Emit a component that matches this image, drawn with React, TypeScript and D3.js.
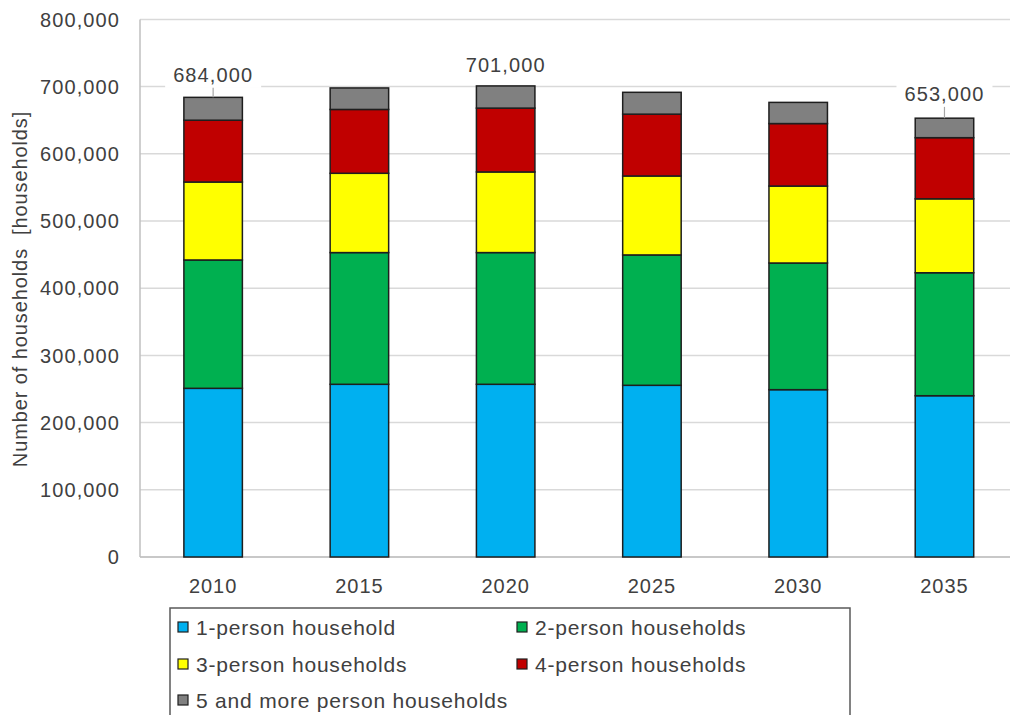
import React from "react";
import * as d3 from "d3";

const years = ["2010", "2015", "2020", "2025", "2030", "2035"];
const onePerson = [251000, 257000, 257000, 255500, 249000, 240000];
const twoPerson = [191000, 196000, 196000, 194000, 188500, 183000];
const threePerson = [116000, 118000, 120000, 117500, 114500, 110000];
const fourPerson = [92000, 95000, 95000, 92000, 93000, 91000];
const fivePlus = [34000, 32000, 33000, 32500, 31500, 29000];
const seriesNames = [
  "1-person household",
  "2-person households",
  "3-person households",
  "4-person households",
  "5 and more person households",
];
const seriesColors = ["#00b0f0", "#00b050", "#ffff00", "#c00000", "#808080"];
const yTicks = [0, 100000, 200000, 300000, 400000, 500000, 600000, 700000, 800000];
const labeledYears = ["2010", "2020", "2035"];
const yTitle = "Number of households  [households]";

// layout (not data)
const W = 1010;
const H = 715;
const X0 = 140;
const X1 = 1017.6;
const Y0 = 557;
const YTOP = 19.4;
const TXT = "#404040";
const FONT = "Arial, 'Liberation Sans', sans-serif";
const labelLayout: Record<string, { dy: number; leader: boolean }> = {
  "2010": { dy: 15.5, leader: true },
  "2020": { dy: 14, leader: false },
  "2035": { dy: 17.3, leader: true },
};

export default function App() {
  const series = [onePerson, twoPerson, threePerson, fourPerson, fivePlus];
  const rows = years.map((yr, i) => {
    const r: any = { year: yr };
    series.forEach((s, k) => (r["s" + k] = s[i]));
    return r;
  });
  const keys = series.map((_, k) => "s" + k);
  const stacked = d3.stack().keys(keys)(rows);

  const x = d3.scaleBand().domain(years).range([X0, X1]).paddingInner(0.6).paddingOuter(0.3);
  const y = d3.scaleLinear().domain([0, 800000]).range([Y0, YTOP]);
  const fmt = d3.format(",");

  const totals = years.map((_, i) => d3.sum(series, (s) => s[i]));

  const legendItems = [
    { k: 0, x: 178, y: 627 },
    { k: 1, x: 517, y: 627 },
    { k: 2, x: 178, y: 664 },
    { k: 3, x: 517, y: 664 },
    { k: 4, x: 178, y: 700 },
  ];

  return (
    <svg
      width={W}
      height={H}
      style={{ position: "absolute", left: 0, top: 0, background: "#fff" }}
      fontFamily={FONT}
    >
      <rect x={0} y={0} width={W} height={H} fill="#fff" />
      {/* gridlines */}
      {yTicks.map((t) => (
        <line key={t} x1={X0} x2={W} y1={y(t)} y2={y(t)} stroke="#d9d9d9" strokeWidth={1.5} />
      ))}
      {/* axes */}
      <line x1={X0} x2={X0} y1={YTOP} y2={Y0} stroke="#bfbfbf" strokeWidth={1.5} />
      <line x1={X0} x2={W} y1={Y0} y2={Y0} stroke="#bfbfbf" strokeWidth={1.5} />
      {/* y tick labels */}
      {yTicks.map((t) => (
        <text
          key={t}
          x={120}
          y={y(t)}
          dy="0.36em"
          textAnchor="end"
          fontSize={20}
          letterSpacing={1.1}
          fill={TXT}
        >
          {fmt(t)}
        </text>
      ))}
      {/* y title */}
      <text
        transform={`translate(27,289) rotate(-90)`}
        textAnchor="middle"
        fontSize={20}
        letterSpacing={0.9}
        fill={TXT}
        style={{ whiteSpace: "pre" }}
      >
        {yTitle}
      </text>
      {/* bars */}
      {stacked.map((layer, k) => (
        <g key={k}>
          {layer.map((d: any, i: number) => (
            <rect
              key={i}
              x={x(years[i])}
              width={x.bandwidth()}
              y={y(d[1])}
              height={y(d[0]) - y(d[1])}
              fill={seriesColors[k]}
              stroke="#1e1e1e"
              strokeWidth={1.5}
            />
          ))}
        </g>
      ))}
      {/* x labels */}
      {years.map((yr) => (
        <text
          key={yr}
          x={(x(yr) as number) + x.bandwidth() / 2}
          y={593}
          textAnchor="middle"
          fontSize={20}
          letterSpacing={1}
          fill={TXT}
        >
          {yr}
        </text>
      ))}
      {/* total labels */}
      {labeledYears.map((yr) => {
        const i = years.indexOf(yr);
        const cx = (x(yr) as number) + x.bandwidth() / 2;
        const top = y(totals[i]);
        const L = labelLayout[yr];
        const base = top - L.dy;
        return (
          <g key={yr}>
            <rect x={cx - 48} y={base - 21} width={96} height={27} fill="#fff" />
            {L.leader && (
              <line x1={cx} x2={cx} y1={base + 6} y2={top} stroke="#a6a6a6" strokeWidth={1.2} />
            )}
            <text x={cx} y={base} textAnchor="middle" fontSize={20} letterSpacing={1.1} fill={TXT}>
              {fmt(totals[i])}
            </text>
          </g>
        );
      })}
      {/* legend */}
      <rect x={170} y={608} width={680} height={115} fill="#fff" stroke="#595959" strokeWidth={1.5} />
      {legendItems.map((it) => (
        <g key={it.k}>
          <rect
            x={it.x}
            y={it.y - 5}
            width={10}
            height={10}
            fill={seriesColors[it.k]}
            stroke="#1e1e1e"
            strokeWidth={1.2}
          />
          <text
            x={it.x + 18}
            y={it.y}
            dy="0.36em"
            fontSize={21}
            letterSpacing={0.8}
            fill={TXT}
          >
            {seriesNames[it.k]}
          </text>
        </g>
      ))}
    </svg>
  );
}
